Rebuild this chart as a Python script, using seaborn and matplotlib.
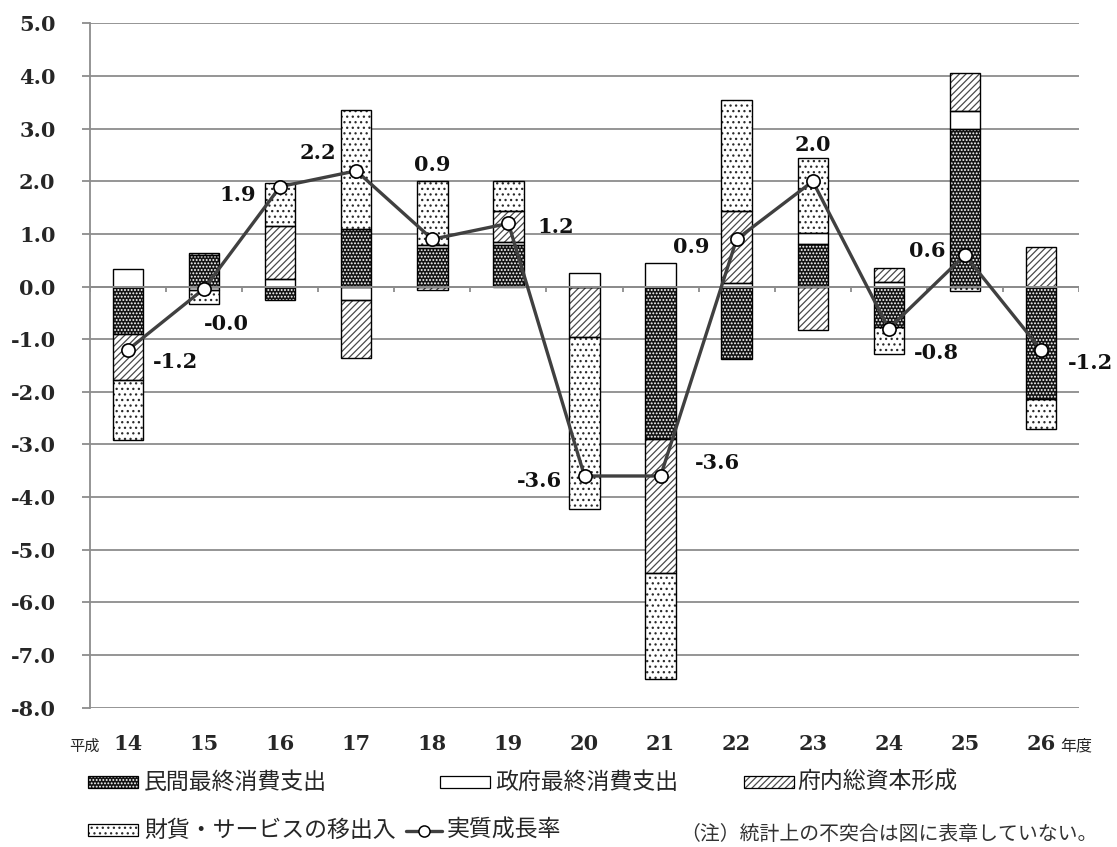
import numpy as np
import matplotlib
matplotlib.use("Agg")
import matplotlib.pyplot as plt
from matplotlib.patches import Rectangle
from matplotlib.lines import Line2D
import seaborn as sns

# Fiscal years (Heisei) and contributions to real growth (percentage points)
years = ["14", "15", "16", "17", "18", "19", "20", "21", "22", "23", "24", "25", "26"]
private_consumption = [-0.91, 0.60, -0.26, 1.10, 0.73, 0.79, 0.00, -2.90, -1.38, 0.81, -0.76, 2.99, -2.13]
government_consumption = [0.33, -0.06, 0.15, -0.26, 0.06, 0.06, 0.25, 0.44, 0.06, 0.21, 0.08, 0.34, 0.00]
capital_formation = [-0.86, 0.04, 1.00, -1.10, -0.07, 0.58, -0.95, -2.55, 1.38, -0.82, 0.27, 0.73, 0.75]
net_exports = [-1.14, -0.28, 0.82, 2.25, 1.22, 0.58, -3.27, -2.00, 2.10, 1.43, -0.52, -0.09, -0.58]
real_growth = [-1.2, -0.04, 1.9, 2.2, 0.9, 1.2, -3.6, -3.6, 0.9, 2.0, -0.8, 0.6, -1.2]

series_names = ["民間最終消費支出", "政府最終消費支出", "府内総資本形成", "財貨・サービスの移出入"]
growth_name = "実質成長率"
y_ticks = [5.0, 4.0, 3.0, 2.0, 1.0, 0.0, -1.0, -2.0, -3.0, -4.0, -5.0, -6.0, -7.0, -8.0]
note_text = "（注）統計上の不突合は図に表章していない。"

# label offsets (pixels, right / up) for the growth-rate annotations
label_offsets = [(47, -12), (22, -35), (-42, -8), (-38, 18), (0, 74), (47, -4),
                 (-45, -5), (57, 13), (-45, -8), (0, 36), (48, -24), (-38, 4), (50, -13)]

sns.set_style("white")
plt.rcParams["font.family"] = ["DejaVu Serif"]
plt.rcParams["hatch.linewidth"] = 0.9

GRID = "#8c8c8c"
CJK = ["Noto Sans CJK JP", "DejaVu Sans"]
styles = [
    dict(face="#141414", hatch_color="white", hatch="....."),
    dict(face="white", hatch_color="white", hatch=None),
    dict(face="white", hatch_color="#4a4a4a", hatch="/////"),
    dict(face="white", hatch_color="#2a2a2a", hatch="..."),
]

W, H = 1117, 847
fig = plt.figure(figsize=(W / 100, H / 100), dpi=100)
ax = fig.add_axes([90 / W, 1 - 707.5 / H, (1079 - 90) / W, (707.5 - 23.5) / H])

n = len(years)
pos_base = np.zeros(n)
neg_base = np.zeros(n)
for vals, st in zip([private_consumption, government_consumption, capital_formation, net_exports], styles):
    v = np.array(vals, dtype=float)
    bottom = np.where(v >= 0, pos_base, neg_base)
    sns.barplot(x=years, y=v, order=years, bottom=bottom, width=0.4, color=st["face"],
                saturation=1, errorbar=None, edgecolor=st["hatch_color"], linewidth=0,
                hatch=st["hatch"], ax=ax, zorder=2)
    sns.barplot(x=years, y=v, order=years, bottom=bottom, width=0.4, color="black",
                saturation=1, errorbar=None, facecolor="none", edgecolor="black",
                linewidth=1.0, ax=ax, zorder=3)
    pos_base += np.where(v >= 0, v, 0)
    neg_base += np.where(v < 0, v, 0)

# zero line with category separators
ax.axhline(0, color=GRID, lw=1.4, zorder=4)
ax.vlines(np.arange(-0.5, n), -0.11, 0, color=GRID, lw=1.3, zorder=4)

# real growth rate line
xs = np.arange(n)
sns.lineplot(x=xs, y=real_growth, ax=ax, color="#404040", lw=2.4, marker="o",
             markersize=9.5, markerfacecolor="white", markeredgecolor="black",
             markeredgewidth=1.2, zorder=6, sort=False)

for x, val, (dx, dy) in zip(xs, real_growth, label_offsets):
    ax.annotate(f"{val:.1f}", (x, val), xytext=(dx * 0.72, dy * 0.72),
                textcoords="offset points", ha="center", va="center",
                fontsize=15, fontweight="bold", color="#111111", zorder=7)

ax.set_xlim(-0.5, n - 0.5)
ax.set_ylim(-8, 5)
ax.set_yticks(y_ticks)
ax.set_yticklabels([f"{t:.1f}" for t in y_ticks], fontsize=15, fontweight="bold")
ax.set_xticks(xs)
ax.set_xticklabels(years, fontsize=15, fontweight="bold")
ax.set_xlabel("")
ax.set_ylabel("")
ax.yaxis.grid(True, color=GRID, lw=1.3)
ax.xaxis.grid(False)
ax.set_axisbelow(True)
for side in ["top", "right", "bottom"]:
    ax.spines[side].set_visible(False)
ax.spines["left"].set_color(GRID)
ax.spines["left"].set_linewidth(1.3)
ax.tick_params(axis="y", length=5.8, width=1.3, color=GRID, pad=19, direction="out", left=True)
ax.tick_params(axis="x", length=0, pad=19)

fig.text(69 / W, 1 - 746 / H, "平成", family=CJK, fontsize=11, va="center", ha="left")
fig.text(1060 / W, 1 - 746 / H, "年度", family=CJK, fontsize=11.5, va="center", ha="left")

# legend drawn below the plot
def legend_patch(x, y, st):
    fig.add_artist(Rectangle((x / W, 1 - (y + 12) / H), 50 / W, 12 / H, transform=fig.transFigure,
                             facecolor=st["face"], edgecolor=st["hatch_color"], hatch=st["hatch"],
                             linewidth=0))
    fig.add_artist(Rectangle((x / W, 1 - (y + 12) / H), 50 / W, 12 / H, transform=fig.transFigure,
                             facecolor="none", edgecolor="black", linewidth=0.9))

entries = [(88, 776, 144), (440, 776, 495), (744, 776, 797), (88, 824, 144)]
for (px, py, tx), st, name in zip(entries, styles, series_names):
    legend_patch(px, py, st)
    fig.text(tx / W, 1 - (py + 6) / H, name, family=CJK, fontsize=16.5, va="center", ha="left")

fig.add_artist(Line2D([406 / W, 442 / W], [1 - 831 / H] * 2, transform=fig.transFigure,
                      color="#404040", lw=2.4, zorder=5))
fig.add_artist(Line2D([424 / W], [1 - 831 / H], transform=fig.transFigure, color="#404040",
                      marker="o", markersize=8, markerfacecolor="white", markeredgecolor="black",
                      markeredgewidth=1.1, linestyle="none", zorder=6))
fig.text(447 / W, 1 - 830 / H, growth_name, family=CJK, fontsize=16.5, va="center", ha="left")
fig.text(680 / W, 1 - 834 / H, note_text, family=CJK, fontsize=14.3, va="center", ha="left",
         color="#333333")

fig.savefig("out.png", dpi=100)
